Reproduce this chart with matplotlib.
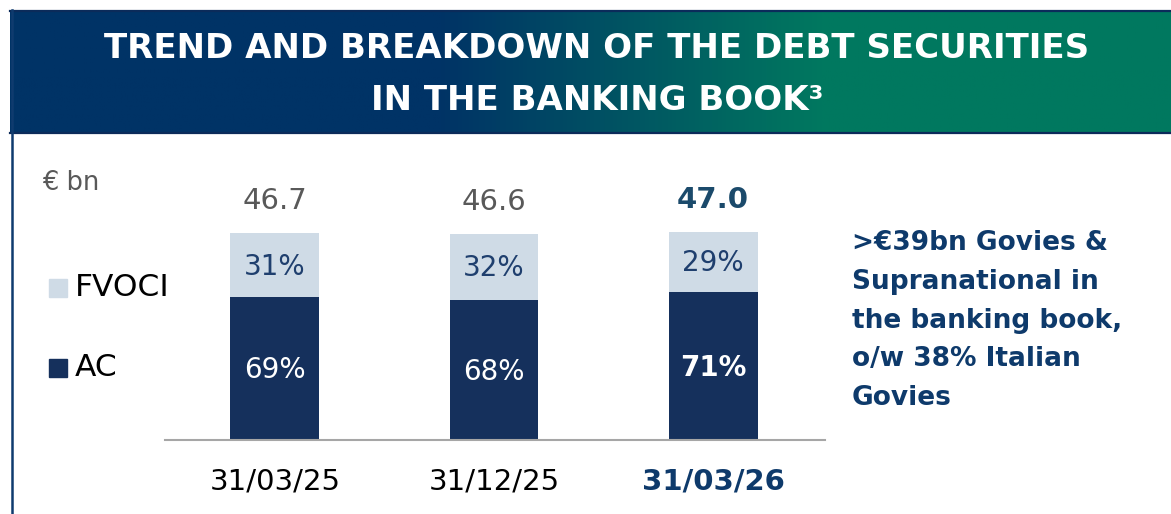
import numpy as np
import matplotlib.pyplot as plt
from matplotlib.colors import LinearSegmentedColormap
from matplotlib.patches import Rectangle
from matplotlib.lines import Line2D

# canvas size in pixels
W, H = 1171, 514

####################
# Data             #
####################
dates = ["31/03/25", "31/12/25", "31/03/26"]
totals = [46.7, 46.6, 47.0]          # € bn
ac_share = [69, 68, 71]              # % amortised cost
fvoci_share = [31, 32, 29]           # % FVOCI
series_names = ["FVOCI", "AC"]
title_lines = ["TREND AND BREAKDOWN OF THE DEBT SECURITIES", "IN THE BANKING BOOK³"]
note_lines = [">€39bn Govies &", "Supranational in", "the banking book,",
              "o/w 38% Italian", "Govies"]

navy = "#15305C"
light = "#CFDBE6"
text_navy = "#0E3A6B"
grey = "#595959"


def fx(px):
    return px / W


def fy(py):
    return 1 - py / H


fig = plt.figure(figsize=(W / 100, H / 100), dpi=100)
fig.patch.set_facecolor("white")

# Header banner with blue -> green gradient
bax = fig.add_axes([fx(10), fy(134), 1161 / W, 124 / H])
cmap = LinearSegmentedColormap.from_list(
    "banner", [(0, "#003366"), (0.37, "#003366"), (0.70, "#00785F"), (1, "#00785F")])
bax.imshow(np.linspace(0, 1, 600)[None, :], aspect="auto", cmap=cmap, extent=[0, 1, 0, 1])
bax.set_axis_off()

fig.add_artist(Line2D([fx(10), 1], [fy(10.5), fy(10.5)], color="#0B2B5A", lw=1.6))
fig.add_artist(Line2D([fx(10), 1], [fy(133), fy(133)], color="#0B2B5A", lw=1.6))
fig.add_artist(Line2D([fx(11.5), fx(11.5)], [fy(10), 0], color="#0F3B6E", lw=1.8))

fig.text(fx(597), fy(48), title_lines[0], ha="center", va="center",
         color="white", fontsize=24.5, fontweight="bold")
fig.text(fx(597), fy(100), title_lines[1], ha="center", va="center",
         color="white", fontsize=24.5, fontweight="bold")

####################
# Stacked bars     #
####################
px_per_bn = 4.43
ax = fig.add_axes([fx(165), fy(440), 660 / W, 250 / H])
x = np.arange(len(dates))
tot = np.array(totals)
ac = tot * np.array(ac_share) / 100
fv = tot * np.array(fvoci_share) / 100

ax.bar(x, ac, width=0.406, color=navy)
ax.bar(x, fv, bottom=ac, width=0.406, color=light)
ax.set_xlim(-0.502, 2.511)
ax.set_ylim(0, 250 / px_per_bn)

for s in ["top", "right", "left"]:
    ax.spines[s].set_visible(False)
ax.spines["bottom"].set_color("#A6A6A6")
ax.spines["bottom"].set_linewidth(1.5)
ax.set_yticks([])
ax.set_xticks(x, dates)
ax.tick_params(axis="x", length=0, pad=20, labelsize=21, labelcolor="black")
ax.get_xticklabels()[-1].set_fontweight("bold")
ax.get_xticklabels()[-1].set_color(text_navy)

last = len(dates) - 1
for i in x:
    bold = i == last
    ax.annotate(f"{totals[i]:.1f}", (i, tot[i]), xytext=(0, 23), textcoords="offset points",
                ha="center", va="center", fontsize=21,
                fontweight="bold" if bold else "normal",
                color="#1B4A6B" if bold else grey)
    ax.text(i, ac[i] / 2 - 0.4, f"{ac_share[i]}%", ha="center", va="center", fontsize=20,
            color="white", fontweight="bold" if bold else "normal")
    ax.text(i, ac[i] + fv[i] / 2 - 0.3, f"{fvoci_share[i]}%", ha="center", va="center",
            fontsize=20, color="#1F3F6E")

####################
# Legend / labels  #
####################
fig.text(fx(42), fy(183), "€ bn", ha="left", va="center", fontsize=18.5, color=grey)
for name, col, yc in zip(series_names, [light, navy], [288, 368]):
    fig.add_artist(Rectangle((fx(49), fy(yc + 9)), 18 / W, 18 / H,
                             transform=fig.transFigure, color=col))
    fig.text(fx(75), fy(yc), name, ha="left", va="center", fontsize=22.5, color="black")

for k, line in enumerate(note_lines):
    fig.text(fx(852), fy(243 + 38.8 * k), line, ha="left", va="center",
             fontsize=19, fontweight="bold", color=text_navy)

fig.savefig("out.png", dpi=100, facecolor="white")
